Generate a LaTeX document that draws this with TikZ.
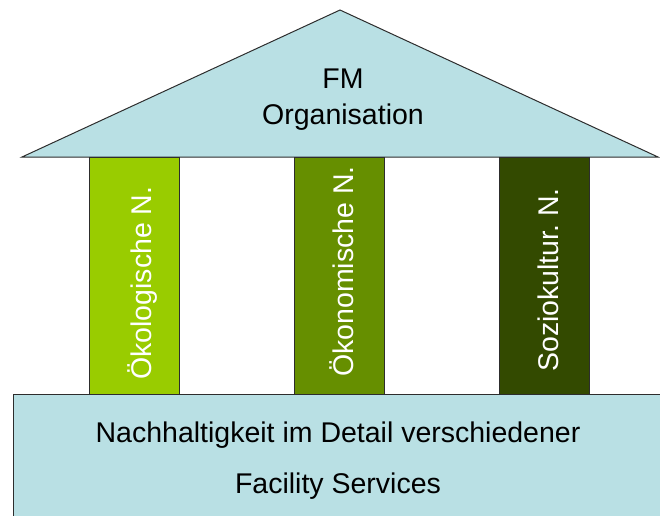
\documentclass[tikz,border=0pt]{standalone}
\usepackage{fontspec}
\setmainfont{Liberation Sans}
\frenchspacing
\definecolor{roofblue}{RGB}{185,224,228}
\definecolor{pgreenA}{RGB}{153,204,0}
\definecolor{pgreenB}{RGB}{102,143,0}
\definecolor{pgreenC}{RGB}{51,74,0}
\definecolor{edgegray}{RGB}{45,45,45}
\tikzset{
  part/.style={draw=edgegray, line width=1pt, line join=miter},
  pillartext/.style={rotate=90, anchor=base west, inner sep=0pt, text=white, font=\fontsize{28.5}{34}\selectfont},
  darktext/.style={anchor=base, inner sep=0pt, text=black, font=\fontsize{28.5}{34}\selectfont}
}
\begin{document}
\begin{tikzpicture}[x=1pt,y=-1pt]
\useasboundingbox (0,0) rectangle (660,515);
\clip (0,0) rectangle (660,515);
% roof
\path[part, fill=roofblue] (22,157) coordinate (roofL) -- (340,10) coordinate (apex) -- (658,157) coordinate (roofR) -- cycle;
% pillars
\path[part, fill=pgreenA] (89,157) rectangle (179,394);
\path[part, fill=pgreenB] (294,157) rectangle (384,394);
\path[part, fill=pgreenC] (499,157) rectangle (589,394);
% base
\path[part, fill=roofblue] (13,394) rectangle (680,530);
% texts
\node[darktext] (fm) at (343,88) {FM};
\node[darktext] (org) at (343,124) {Organisation};
\node[pillartext] (oek) at (151,380) {Ökologische N.};
\node[pillartext] (oko) at (353,377) {Ökonomische N.};
\node[pillartext] (soz) at (558,372) {Soziokultur. N.};
\node[darktext] (nach) at (338,442) {Nachhaltigkeit im Detail verschiedener};
\node[darktext] (fac) at (338,493) {Facility Services};
\end{tikzpicture}
\end{document}
